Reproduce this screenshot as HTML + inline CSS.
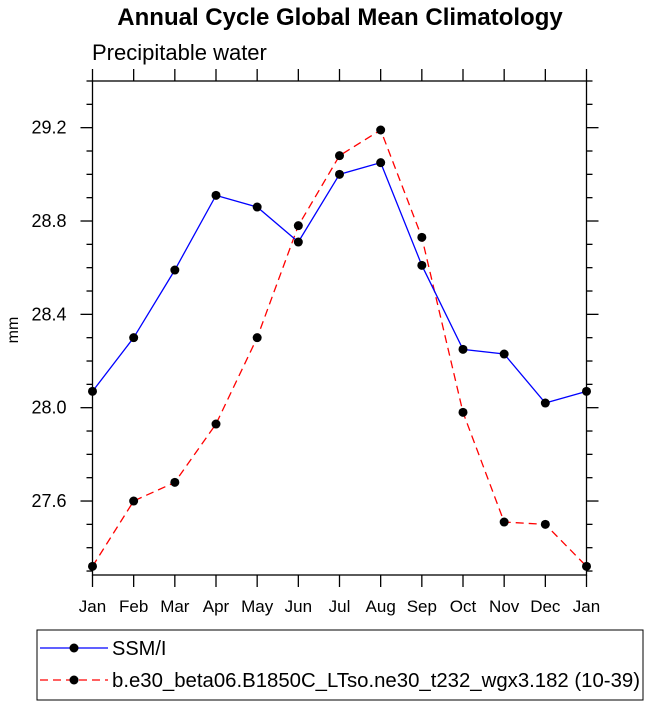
<!DOCTYPE html>
<html><head><meta charset="utf-8"><style>
body{margin:0;background:#fff;}
svg{display:block;font-family:"Liberation Sans",sans-serif;}
</style></head><body>
<svg id="c" width="649" height="703">
<text x="340" y="25" text-anchor="middle" font-size="24" font-weight="bold">Annual Cycle Global Mean Climatology</text>
<text x="92" y="60" font-size="22">Precipitable water</text>
<text transform="translate(18,330) rotate(-90)" text-anchor="middle" font-size="16">mm</text>
<g id="axes"></g><g id="series"></g>
<rect x="37" y="630" width="606" height="70" fill="none" stroke="#000" stroke-width="1"/>
<g>
<line x1="40" y1="648" x2="108" y2="648" stroke="#0000ff" stroke-width="1.3"/><circle cx="74" cy="648" r="4.5"/>
<text x="112" y="655" font-size="20">SSM/I</text></g>
<g>
<line x1="40" y1="680" x2="108" y2="680" stroke="#ff0000" stroke-width="1.3" stroke-dasharray="8,5"/><circle cx="74" cy="680" r="4.5"/>
<text x="112" y="687" font-size="20" textLength="528" lengthAdjust="spacingAndGlyphs">b.e30_beta06.B1850C_LTso.ne30_t232_wgx3.182 (10-39)</text></g>
</svg>
<script>
const months=["Jan","Feb","Mar","Apr","May","Jun","Jul","Aug","Sep","Oct","Nov","Dec","Jan"];
const ssmi=[28.07,28.30,28.59,28.91,28.86,28.71,29.00,29.05,28.61,28.25,28.23,28.02,28.07];
const model=[27.32,27.60,27.68,27.93,28.30,28.78,29.08,29.19,28.73,27.98,27.51,27.50,27.32];
const yTicks=[27.6,28.0,28.4,28.8,29.2];
const L=92.5,R=586.5,T=81,B=575,ymin=27.283,ymax=29.4;
const NS="http://www.w3.org/2000/svg";
const xs=i=>L+i*(R-L)/(months.length-1);
const ys=v=>B-(v-ymin)/(ymax-ymin)*(B-T);
function mk(t,a,p){const e=document.createElementNS(NS,t);for(const k in a)e.setAttribute(k,a[k]);p.appendChild(e);return e;}
const ax=document.getElementById('axes'),sr=document.getElementById('series');
const frame=mk('rect',{x:L,y:T,width:R-L,height:B-T,fill:'none',stroke:'#000','stroke-width':1.3},ax);


months.forEach((m,i)=>{const x=xs(i);
mk('line',{x1:x,y1:B,x2:x,y2:B+12,stroke:'#000','stroke-width':1.3},ax);
mk('line',{x1:x,y1:T,x2:x,y2:T-12,stroke:'#000','stroke-width':1.3},ax);
const t=mk('text',{x:x,y:B+37,'text-anchor':'middle','font-size':17},ax);t.textContent=m;

});
for(let v=27.3;v<=29.4001;v+=0.1){const y=ys(v);const maj=yTicks.some(t=>Math.abs(t-v)<1e-6);const len=maj?12:6;
mk('line',{x1:L,y1:y,x2:L-len,y2:y,stroke:'#000','stroke-width':1.3},ax);
mk('line',{x1:R,y1:y,x2:R+len,y2:y,stroke:'#000','stroke-width':1.3},ax);}
yTicks.forEach(v=>{const t=mk('text',{x:L-26,y:ys(v)+6,'text-anchor':'end','font-size':18},ax);t.textContent=v.toFixed(1);

});
function series(d,col,dash,name){const pl=mk('polyline',{points:d.map((v,i)=>xs(i)+','+ys(v)).join(' '),fill:'none',stroke:col,'stroke-width':1.3,'stroke-dasharray':dash},sr);


d.forEach((v,i)=>{const c=mk('circle',{cx:xs(i),cy:ys(v),r:4.5},sr);

});}
series(model,'#ff0000','8,5','model');
series(ssmi,'#0000ff','none','ssmi');
</script>
</body></html>
